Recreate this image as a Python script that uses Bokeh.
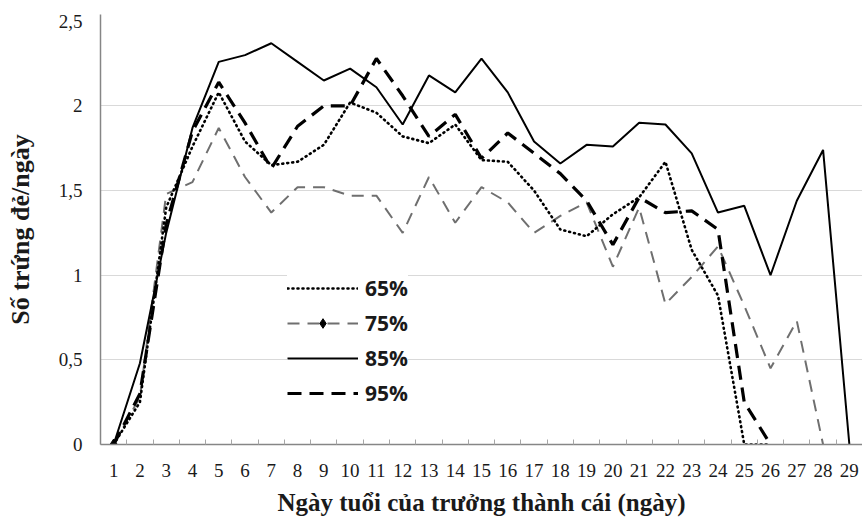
from bokeh.plotting import figure
from bokeh.models import (Range1d, FixedTicker, CustomJSTickFormatter, Legend, LegendItem, Grid)
from bokeh.embed import file_html
from bokeh.resources import INLINE

# ---- data ----
days = list(range(1, 30))
s65 = [0, 0.25, 1.40, 1.76, 2.08, 1.79, 1.65, 1.67, 1.77, 2.02, 1.96, 1.82, 1.78, 1.89,
       1.68, 1.67, 1.50, 1.27, 1.23, 1.36, 1.46, 1.67, 1.15, 0.88, 0, 0]
s75 = [0, 0.28, 1.48, 1.55, 1.87, 1.58, 1.37, 1.52, 1.52, 1.47, 1.47, 1.25, 1.58, 1.31,
       1.52, 1.43, 1.25, 1.35, 1.43, 1.05, 1.40, 0.83, 0.99, 1.17, 0.82, 0.45, 0.73, 0]
s85 = [0, 0.48, 1.25, 1.87, 2.26, 2.30, 2.37, 2.26, 2.15, 2.22, 2.11, 1.89, 2.18, 2.08,
       2.28, 2.08, 1.79, 1.66, 1.77, 1.76, 1.90, 1.89, 1.72, 1.37, 1.41, 1.00, 1.44, 1.74, 0]
s95 = [0, 0.30, 1.30, 1.85, 2.14, 1.90, 1.63, 1.88, 2.00, 2.00, 2.28, 2.06, 1.82, 1.95,
       1.69, 1.84, 1.72, 1.60, 1.44, 1.18, 1.46, 1.37, 1.38, 1.27, 0.25, 0]
series_names = ["65%", "75%", "85%", "95%"]
y_ticks = [0, 0.5, 1, 1.5, 2, 2.5]
grid_ticks = [0.5, 1, 1.5, 2]
x_title = "Ngày tuổi của trưởng thành cái (ngày)"
y_title = "Số trứng đẻ/ngày"

p = figure(width=862, height=520, output_backend="svg", toolbar_location=None,
           x_range=Range1d(0.5, 29.5), y_range=Range1d(0, 2.54))
p.min_border_left = 100
p.min_border_right = 0
p.min_border_top = 14
p.min_border_bottom = 76
p.outline_line_color = None
p.background_fill_color = "white"
p.border_fill_color = "white"

# grids
p.xgrid.visible = False
p.ygrid.visible = False
g = Grid(dimension=1, ticker=FixedTicker(ticks=grid_ticks), grid_line_color="#d9d9d9", grid_line_width=1)
p.add_layout(g)

serif = "Liberation Serif"
# x axis
xa = p.xaxis[0]
xa.ticker = FixedTicker(ticks=days, minor_ticks=[d + 0.5 for d in [0] + days])
xa.major_tick_in = 0
xa.major_tick_out = 0
xa.minor_tick_in = 5
xa.minor_tick_out = 0
xa.minor_tick_line_color = "#a6a6a6"
xa.axis_line_color = "#868686"
xa.axis_line_width = 1.5
xa.major_label_text_font = serif
xa.major_label_text_font_size = "19px"
xa.major_label_text_color = "#1a1a1a"
xa.major_label_standoff = 19
xa.axis_label = x_title
xa.axis_label_text_font = serif
xa.axis_label_text_font_style = "bold"
xa.axis_label_text_font_size = "25px"
xa.axis_label_text_color = "#1a1a1a"
xa.axis_label_standoff = 9

# y axis
ya = p.yaxis[0]
ya.ticker = FixedTicker(ticks=y_ticks)
ya.formatter = CustomJSTickFormatter(code="return tick.toString().replace('.', ',');")
ya.major_tick_in = 0
ya.major_tick_out = 0
ya.minor_tick_line_color = None
ya.axis_line_color = "#868686"
ya.axis_line_width = 1.5
ya.major_label_text_font = serif
ya.major_label_text_font_size = "19px"
ya.major_label_text_color = "#1a1a1a"
ya.major_label_standoff = 18
ya.axis_label = y_title
ya.axis_label_text_font = serif
ya.axis_label_text_font_style = "bold"
ya.axis_label_text_font_size = "26px"
ya.axis_label_text_color = "#1a1a1a"
ya.axis_label_standoff = 21

# series
r75 = p.line(days[:len(s75)], s75, line_color="#6f6f6f", line_width=2, line_dash="12 8")
r75m = p.scatter(days[:1], s75[:1], marker="diamond", size=11, color="black")
r65 = p.line(days[:len(s65)], s65, line_color="black", line_width=2.6, line_dash="1 4", line_cap="round")
r95 = p.line(days[:len(s95)], s95, line_color="black", line_width=3.2, line_dash="14 8")
r85 = p.line(days[:len(s85)], s85, line_color="black", line_width=2)

legend = Legend(items=[
    LegendItem(label=series_names[0], renderers=[r65]),
    LegendItem(label=series_names[1], renderers=[r75, r75m]),
    LegendItem(label=series_names[2], renderers=[r85]),
    LegendItem(label=series_names[3], renderers=[r95]),
], location=(187, 37))
legend.border_line_color = None
legend.background_fill_color = "white"
legend.background_fill_alpha = 1
legend.padding = 0
legend.margin = 0
legend.glyph_width = 71
legend.glyph_height = 24
legend.label_height = 24
legend.spacing = 7
legend.label_standoff = 7
legend.label_text_font = "Open Sans"
legend.label_text_font_style = "bold"
legend.label_text_font_size = "21px"
legend.label_text_color = "#1a1a1a"
p.add_layout(legend)

open("out.html", "w").write(file_html(p, INLINE))
